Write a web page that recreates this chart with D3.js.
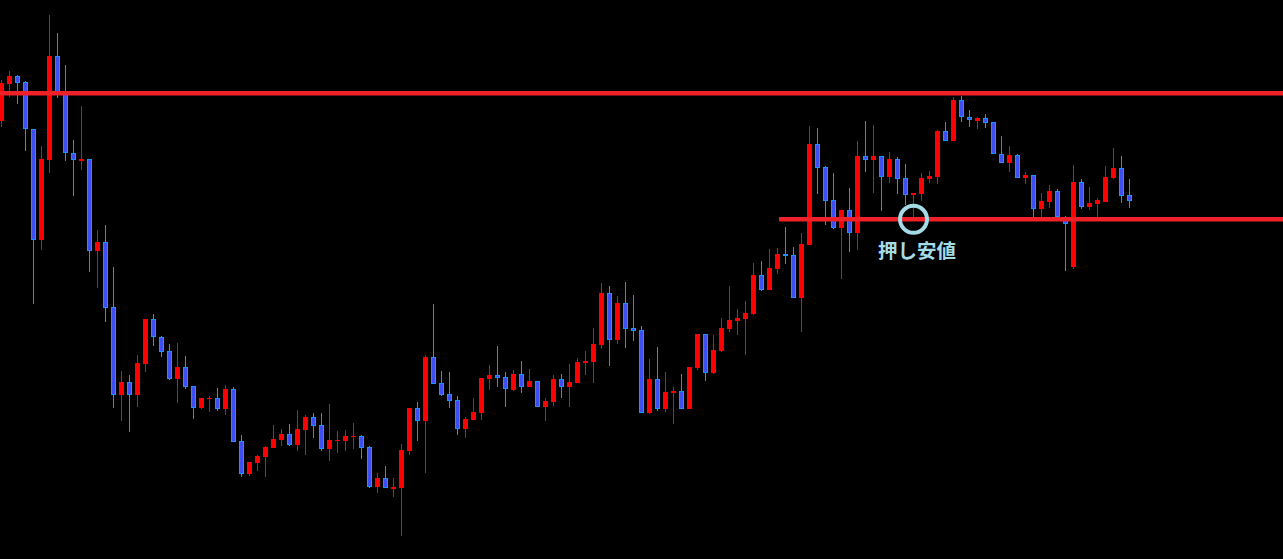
<!DOCTYPE html>
<html><head><meta charset="utf-8">
<script src="https://cdn.jsdelivr.net/npm/d3@7"></script>
<style>html,body{margin:0;padding:0;background:#000;overflow:hidden}</style>
</head><body>
<svg id="chart" width="1283" height="559"></svg>
<script>
// OHLC values (arbitrary price units)
const opens  = [439,476,484,478,431,320,400,504,467,407,399,401,309,318,253,165,178,165,196,241,223,209,181,193,174,152,161,162,151,171,119,86,97,103,112,120,126,115,130,143,135,111,119,119,123,124,113,73,82,71,72,109,152,139,203,177,166,160,131,140,147,181,185,183,170,186,173,179,153,158,181,173,177,197,198,215,267,220,257,232,230,147,181,151,167,169,151,192,226,187,209,231,239,241,246,285,270,291,306,305,262,315,416,393,360,332,350,327,404,400,404,383,401,382,365,366,381,383,429,419,460,443,439,442,438,406,397,405,382,385,351,358,369,343,293,378,353,356,358,382,392,365];
const highs  = [480,489,485,479,431,414,545,527,495,420,454,401,330,335,293,189,185,205,241,246,224,216,217,204,174,162,164,172,175,173,125,98,105,114,135,131,136,150,145,147,147,156,129,130,137,125,114,87,94,82,116,152,158,205,256,189,188,164,143,162,182,195,214,188,190,199,191,179,162,185,186,196,202,209,232,277,274,264,278,265,234,201,213,188,173,186,193,226,226,225,242,274,251,259,297,299,311,312,333,313,327,434,432,394,387,350,372,419,439,435,404,408,403,396,367,387,389,430,438,463,464,450,443,446,438,424,414,406,388,385,367,375,371,344,395,381,373,362,394,412,404,381];
const lows   = [433,463,456,409,256,310,387,462,399,364,390,288,272,238,152,139,128,153,188,214,203,180,157,171,141,151,148,149,145,118,83,84,89,83,112,114,114,109,105,122,109,99,107,109,111,101,72,67,72,63,24,105,119,87,176,164,152,125,122,140,140,170,173,153,169,167,173,153,139,154,162,153,177,185,177,211,194,216,212,219,147,146,149,148,136,151,151,190,179,186,208,228,225,205,245,269,270,286,296,262,228,315,366,335,331,281,308,310,388,367,349,377,366,355,343,359,377,376,419,419,438,433,431,432,406,397,388,382,376,343,342,352,342,289,291,351,350,341,358,381,357,352];
const closes = [477,484,477,431,320,401,504,467,407,400,401,309,318,252,165,178,165,197,241,223,208,181,193,173,152,162,162,151,171,118,86,98,104,113,121,126,115,131,143,134,111,120,120,124,124,112,73,82,72,73,110,152,139,203,176,165,159,131,141,148,182,185,182,171,186,173,179,153,159,181,173,178,198,199,216,267,220,257,231,229,147,181,151,168,169,151,193,226,187,210,232,240,242,247,285,270,292,306,304,262,316,416,392,359,332,350,327,404,400,404,383,401,381,365,367,382,384,429,419,460,443,440,442,437,406,397,405,382,385,351,359,369,343,336,378,353,357,360,383,392,364,359];

// horizontal levels: price and the candle index where the line starts
const levelPrices = [467, 341];
const levelStarts = [null, 97];
// marked point on the support level
const markIndex = 114;
const markPrice = 341;
const markLabel = "押し安値";

const W = 1283, H = 559;
const n = opens.length;
const data = d3.range(n).map(i => ({i, o: opens[i], h: highs[i], l: lows[i], c: closes[i]}));

const x = d3.scaleBand().domain(d3.range(n)).range([-2.5, -2.5 + 8 * n]);
const cx = i => x(i) + x.bandwidth() / 2;
const y = d3.scaleLinear().domain([0, 560]).range([560, 0]);

const svg = d3.select("#chart");
svg.append("rect").attr("width", W).attr("height", H).attr("fill", "#000");

const RED = "#ff0000", BLUE_FILL = "#3b4ff2", BLUE_EDGE = "#1e90ff";

const g = svg.append("g");
const candles = g.selectAll("g.c").data(data).join("g").attr("class", "c");

candles.append("line")
  .attr("x1", d => cx(d.i)).attr("x2", d => cx(d.i))
  .attr("y1", d => y(d.h)).attr("y2", d => y(d.l))
  .attr("stroke", d => d.c >= d.o ? RED : BLUE_EDGE)
  .attr("stroke-width", 1)
  .attr("shape-rendering", "crispEdges");

candles.filter(d => d.c >= d.o).append("rect")
  .attr("x", d => cx(d.i) - 2.5)
  .attr("width", 5)
  .attr("y", d => y(d.c))
  .attr("height", d => Math.max(1, y(d.o) - y(d.c)))
  .attr("fill", RED)
  .attr("shape-rendering", "crispEdges");

candles.filter(d => d.c < d.o).append("rect")
  .attr("x", d => cx(d.i) - 2)
  .attr("width", 4)
  .attr("y", d => y(d.o) + 0.5)
  .attr("height", d => Math.max(1, y(d.c) - y(d.o) - 1))
  .attr("fill", BLUE_FILL)
  .attr("stroke", BLUE_EDGE)
  .attr("stroke-width", 1)
  .attr("shape-rendering", "crispEdges");

// level lines
const LINE = "#ee2129";
levelPrices.forEach((p, k) => {
  const x0 = levelStarts[k] === null ? 0 : cx(levelStarts[k]) + 1.5;
  svg.append("line")
    .attr("x1", x0).attr("x2", W)
    .attr("y1", y(p) + 0.3).attr("y2", y(p) + 0.3)
    .attr("stroke", LINE).attr("stroke-width", 4.6);
});

// mark circle and label
const MARK = "#a3dbe6";
svg.append("circle")
  .attr("cx", cx(markIndex)).attr("cy", y(markPrice) + 0.3)
  .attr("r", 13.5)
  .attr("fill", "none").attr("stroke", MARK).attr("stroke-width", 4);

svg.append("text")
  .attr("x", cx(markIndex) + 3.5)
  .attr("y", y(markPrice) + 30.5)
  .attr("text-anchor", "middle")
  .attr("dominant-baseline", "central")
  .attr("font-family", "'Noto Sans CJK JP', 'Noto Sans', sans-serif")
  .attr("font-weight", "bold")
  .attr("font-size", 19.5)
  .attr("fill", MARK)
  .text(markLabel);
</script>
</body></html>
